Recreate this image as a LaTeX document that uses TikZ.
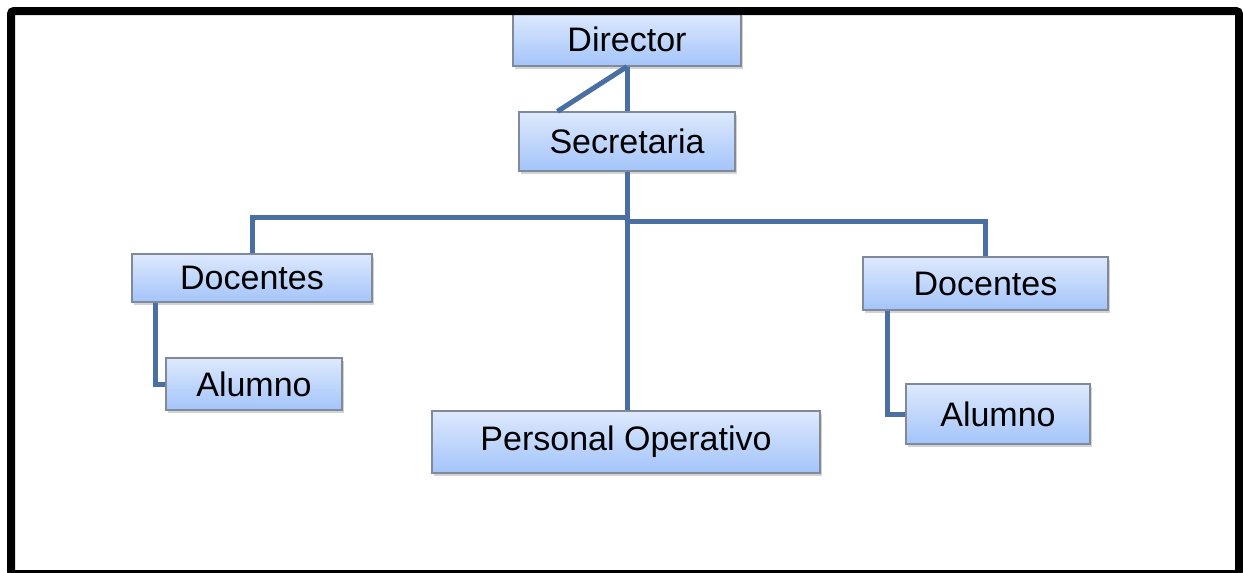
\documentclass[tikz,border=0pt]{standalone}
\usepackage{fontspec}
\setmainfont{Liberation Sans}
\usetikzlibrary{positioning,shadows}
\definecolor{linkblue}{RGB}{74,112,163}
\definecolor{boxtop}{RGB}{222,233,253}
\definecolor{boxbot}{RGB}{163,196,250}
\definecolor{boxedge}{RGB}{128,138,152}
\tikzset{box/.style={draw=boxedge,line width=1.2pt,top color=boxtop,bottom color=boxbot,
         inner sep=0pt,font=\fontsize{34}{40}\selectfont,
         drop shadow={shadow xshift=2pt,shadow yshift=-3pt,opacity=.35}},
         link/.style={draw=linkblue,line width=5pt}}

\begin{document}
\begin{tikzpicture}[x=1pt,y=-1pt]
\useasboundingbox (0,0) rectangle (1243,573);
\node[box,minimum width=228pt,minimum height=53pt] (dir) at (627,39.5) {Director};
\node[box,minimum width=216pt,minimum height=59pt] (sec) at (627,141.5) {Secretaria};
\node[box,minimum width=240pt,minimum height=48pt] (docL) at (252,278) {Docentes};
\node[box,minimum width=176pt,minimum height=52pt] (aluL) at (254,384) {Alumno};
\node[box,minimum width=245pt,minimum height=53pt] (docR) at (985.5,283.5) {Docentes};
\node[box,minimum width=184pt,minimum height=60pt] (aluR) at (998,414) {Alumno};
\node[box,minimum width=388pt,minimum height=62pt] (pers) at (626,442) {Personal Operativo};
\coordinate (jl) at (627,217);
\coordinate (jr) at (627,221);
% connectors
\draw[link] (dir.south) -- (sec.north);
\draw[link] (dir.south) -- ([xshift=39pt]sec.north west);
\draw[link] (sec.south) -- (sec.south |- pers.north);
\draw[link] (jl) -| (docL.north);
\draw[link] (jr) -| (docR.north);
\draw[link] ([xshift=24pt]docL.south west) |- (aluL.west);
\draw[link] ([xshift=25pt]docR.south west) |- (aluR.west);
\draw[line width=8pt,rounded corners=3pt] (11,11) rectangle (1239,574);
\end{tikzpicture}
\end{document}
